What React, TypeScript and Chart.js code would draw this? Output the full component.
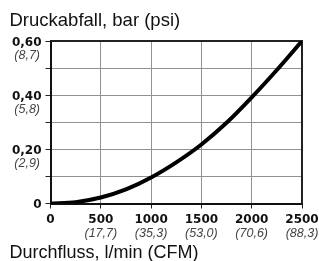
import { useEffect, useRef } from "react";
import { Chart, registerables } from "chart.js";

Chart.register(...registerables);

// ---- data ----
const flowLpm = [0, 250, 500, 750, 1000, 1250, 1500, 1750, 2000, 2250, 2500];
const dropBar = [0, 0.005, 0.022, 0.052, 0.096, 0.152, 0.218, 0.298, 0.392, 0.493, 0.6];

const xTickValues = [0, 500, 1000, 1500, 2000, 2500];
const xTickLabels = ["0", "500", "1000", "1500", "2000", "2500"];
const xSubLabels = ["", "(17,7)", "(35,3)", "(53,0)", "(70,6)", "(88,3)"];

const yTickValues = [0, 0.2, 0.4, 0.6];
const yTickLabels = ["0", "0,20", "0,40", "0,60"];
const ySubLabels = ["", "(2,9)", "(5,8)", "(8,7)"];

const yTitle = "Druckabfall, bar (psi)";
const xTitle = "Durchfluss, l/min (CFM)";

const W = 319;
const H = 263;

function findLabel(values: number[], labels: string[], v: number): string {
  for (let i = 0; i < values.length; i++) {
    if (Math.abs(values[i] - v) < 1e-6) return labels[i];
  }
  return "";
}

const framePlugin = {
  id: "frame",
  beforeDatasetsDraw(chart: any) {
    const { ctx, chartArea } = chart;
    ctx.save();
    ctx.strokeStyle = "#222";
    ctx.lineWidth = 2;
    ctx.beginPath();
    ctx.moveTo(chartArea.left, chartArea.top);
    ctx.lineTo(chartArea.right, chartArea.top);
    ctx.lineTo(chartArea.right, chartArea.bottom);
    ctx.stroke();
    ctx.restore();
  },
};

const subLabelPlugin = {
  id: "subLabels",
  afterDraw(chart: any) {
    const { ctx, chartArea, scales } = chart;
    ctx.save();
    ctx.font = "italic 12.5px 'Liberation Sans', Arial, sans-serif";
    ctx.fillStyle = "#444";
    ctx.textBaseline = "middle";
    ctx.textAlign = "right";
    yTickValues.forEach((v, i) => {
      if (!ySubLabels[i]) return;
      const y = scales.y.getPixelForValue(v);
      ctx.fillText(ySubLabels[i], chartArea.left - 10.5, y + 14.5);
    });
    ctx.textAlign = "center";
    xTickValues.forEach((v, i) => {
      if (!xSubLabels[i]) return;
      const x = scales.x.getPixelForValue(v);
      ctx.fillText(xSubLabels[i], x, chartArea.bottom + 30.5);
    });
    ctx.restore();
  },
};

export default function App() {
  const ref = useRef<HTMLCanvasElement | null>(null);

  useEffect(() => {
    if (!ref.current) return;
    const chart = new Chart(ref.current, {
      type: "line",
      data: {
        datasets: [
          {
            data: flowLpm.map((x, i) => ({ x, y: dropBar[i] })),
            borderColor: "#000",
            borderWidth: 4,
            pointRadius: 0,
            cubicInterpolationMode: "monotone",
            fill: false,
          },
        ],
      },
      options: {
        animation: false,
        responsive: false,
        devicePixelRatio: 1,
        layout: { padding: { left: 9.5, right: 17, top: 0, bottom: 0 } },
        plugins: {
          legend: { display: false },
          tooltip: { enabled: false },
          title: {
            display: true,
            text: yTitle,
            align: "start",
            color: "#111",
            font: { family: "'Liberation Sans', Arial, sans-serif", size: 18.5, weight: "normal", lineHeight: 1.2 },
            padding: { top: 10, bottom: 8.8 },
          },
          subtitle: {
            display: true,
            text: xTitle,
            position: "bottom",
            align: "start",
            color: "#111",
            font: { family: "'Liberation Sans', Arial, sans-serif", size: 18, weight: "normal", lineHeight: 1.1 },
            padding: 0,
          },
        },
        scales: {
          x: {
            type: "linear",
            min: 0,
            max: 2500,
            afterFit: (s: any) => {
              s.height = 39.7;
              s.paddingLeft = 0;
              s.paddingRight = 0;
            },
            ticks: {
              stepSize: 500,
              maxRotation: 0,
              padding: 4.5,
              color: "#111",
              font: { family: "'DejaVu Sans', sans-serif", size: 12, weight: "bold" },
              callback: (v: any) => findLabel(xTickValues, xTickLabels, Number(v)),
            },
            grid: { color: "#919191", lineWidth: 1, tickLength: 5, tickColor: "#222" },
            border: { color: "#111", width: 2 },
          },
          y: {
            type: "linear",
            min: 0,
            max: 0.6,
            afterFit: (s: any) => {
              s.width = 41;
              s.paddingTop = 0;
              s.paddingBottom = 0;
            },
            ticks: {
              stepSize: 0.1,
              padding: 4,
              labelOffset: 1.5,
              color: "#111",
              font: { family: "'DejaVu Sans', sans-serif", size: 12, weight: "bold" },
              callback: (v: any) => findLabel(yTickValues, yTickLabels, Number(v)),
            },
            grid: { color: "#919191", lineWidth: 1, tickLength: 5, tickColor: "#222" },
            border: { color: "#111", width: 2 },
          },
        },
      },
      plugins: [framePlugin, subLabelPlugin],
    });
    return () => chart.destroy();
  }, []);

  return (
    <div style={{ position: "fixed", left: 0, top: 0, width: W, height: H, background: "#fff" }}>
      <canvas ref={ref} width={W} height={H} style={{ display: "block", width: W, height: H }} />
    </div>
  );
}
